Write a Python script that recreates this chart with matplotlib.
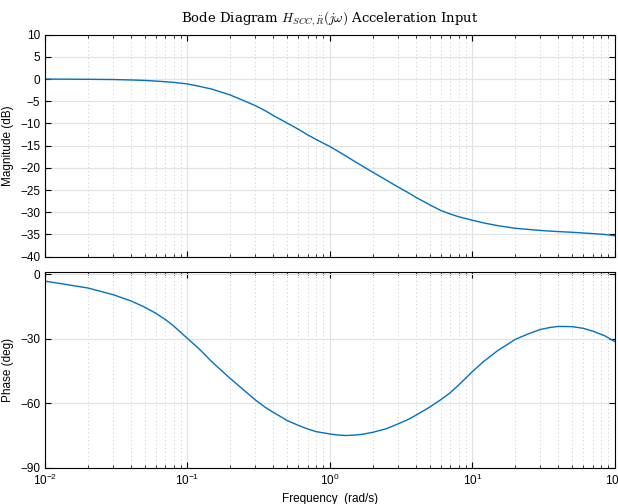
import numpy as np
import matplotlib
matplotlib.use("Agg")
import matplotlib.pyplot as plt
from matplotlib.ticker import LogLocator, NullFormatter

plt.rcParams["font.family"] = ["Liberation Sans", "DejaVu Sans"]

# values
freq_mag = [0.01, 0.02, 0.03, 0.04, 0.05, 0.06, 0.07, 0.08, 0.1, 0.12, 0.15, 0.2, 0.25, 0.3,
            0.35, 0.4, 0.5, 0.6, 0.7, 0.8, 1.0, 1.2, 1.5, 2.0, 2.5, 3.0, 3.5, 4.0, 5.0,
            6.0, 7.0, 8.0, 10.0, 12.0, 15.0, 20.0, 30.0, 40.0, 50.0, 70.0, 85.0, 100.0]
mag_db = [0.0, -0.05, -0.1, -0.2, -0.3, -0.45, -0.6, -0.75, -1.1, -1.6, -2.3, -3.6, -4.9, -6.0,
          -7.1, -8.2, -9.9, -11.3, -12.6, -13.6, -15.2, -16.7, -18.6, -21.0, -22.8, -24.3, -25.5, -26.6, -28.3,
          -29.6, -30.4, -31.0, -31.8, -32.4, -33.0, -33.6, -34.1, -34.35, -34.5, -34.8, -35.0, -35.3]

freq_ph = [0.01, 0.02, 0.03, 0.04, 0.05, 0.06, 0.07, 0.08, 0.1, 0.12, 0.15, 0.2, 0.25, 0.3,
           0.35, 0.4, 0.5, 0.6, 0.7, 0.8, 1.0, 1.15, 1.3, 1.5, 1.7, 2.0, 2.5, 3.0, 3.5, 4.0,
           5.0, 6.0, 7.0, 8.0, 10.0, 12.0, 15.0, 20.0, 25.0, 30.0, 35.0, 40.0, 50.0, 60.0,
           70.0, 85.0, 100.0]
phase_deg = [-3.1, -6.3, -9.4, -12.3, -15.2, -18.1, -21.0, -24.0, -29.8, -34.5, -41.0, -48.5, -54.0, -58.5,
             -61.8, -64.2, -68.0, -70.3, -72.0, -73.2, -74.3, -74.8, -75.0, -74.8, -74.4, -73.5, -71.8, -69.6, -67.7, -65.6,
             -61.8, -58.3, -55.0, -51.5, -45.2, -40.5, -35.5, -30.2, -27.5, -25.6, -24.7, -24.2, -24.3, -25.1,
             -26.4, -28.6, -31.3]

mag_ticks = [-40, -35, -30, -25, -20, -15, -10, -5, 0, 5, 10]
phase_ticks = [-90, -60, -30, 0]

blue = "#0072BD"

fig = plt.figure(figsize=(6.18, 5.04), dpi=100)
ax1 = fig.add_axes([0.0728, 0.4907, 0.9223, 0.4405])
ax2 = fig.add_axes([0.0728, 0.0720, 0.9223, 0.3877])


def style(ax):
    ax.set_xscale("log")
    ax.set_xlim(1e-2, 1e2)
    ax.xaxis.set_major_locator(LogLocator(base=10, numticks=10))
    ax.xaxis.set_minor_locator(LogLocator(base=10, subs=np.arange(2, 10), numticks=20))
    ax.xaxis.set_minor_formatter(NullFormatter())
    ax.grid(True, which="major", color="#e3e3e3", lw=0.9, ls="-")
    ax.grid(True, which="minor", axis="x", color="#c8c8c8", lw=0.7, ls=(0, (1, 3)))
    ax.set_axisbelow(True)
    ax.tick_params(which="both", direction="in", top=True, right=True, labelsize=8.5)
    ax.tick_params(which="major", length=4, width=0.8)
    ax.tick_params(which="minor", length=2.5, width=0.6)
    for s in ax.spines.values():
        s.set_linewidth(0.8)


style(ax1)
ax1.plot(freq_mag, mag_db, color=blue, lw=1.0)
ax1.set_ylim(-40, 10)
ax1.set_yticks(mag_ticks)
ax1.tick_params(labelbottom=False)
ax1.set_ylabel("Magnitude (dB)", fontsize=8.5)
ax1.set_title(r"Bode Diagram $H_{SCC,\ddot{R}}(j\omega)$ Acceleration Input",
              fontsize=9.5, family="DejaVu Serif", math_fontfamily="cm", pad=9)

style(ax2)
ax2.plot(freq_ph, phase_deg, color=blue, lw=1.0)
ax2.set_ylim(-90, 1)
ax2.set_yticks(phase_ticks)
ax2.set_ylabel("Phase (deg)", fontsize=8.5)
ax2.set_xlabel("Frequency  (rad/s)", fontsize=8.5)

fig.savefig("out.png", dpi=100)
